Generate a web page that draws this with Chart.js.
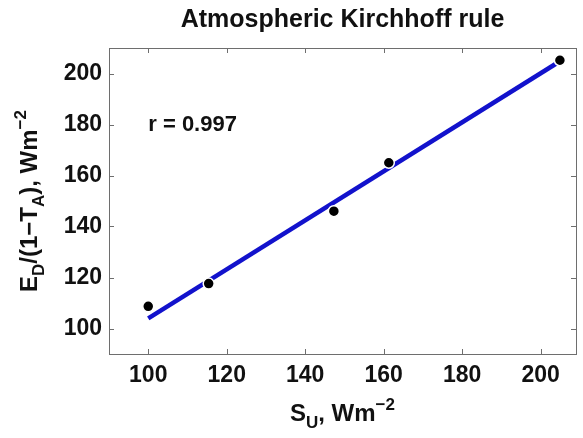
<!DOCTYPE html>
<html>
<head>
<meta charset="utf-8">
<script src="https://cdn.jsdelivr.net/npm/chart.js@4"></script>
<style>
  html, body { margin: 0; padding: 0; background: #fff; }
  #wrap { width: 583px; height: 438px; position: relative; }
</style>
</head>
<body>
<div id="wrap"><canvas id="chart"></canvas></div>
<script>
// measured points (S_U, E_D/(1-T_A))
const suValues = [100, 115.4, 147.3, 161.3, 204.9];
const edValues = [108.7, 117.6, 146, 165, 205.2];
// regression line end points
const fitSu = [100, 205];
const fitEd = [104, 204.9];
const xTicks = [100, 120, 140, 160, 180, 200];
const yTicks = [100, 120, 140, 160, 180, 200];
const rText = "r = 0.997";
const rAt = [100, 180];

const FONT = "'Liberation Sans', Arial, Helvetica, sans-serif";
const boxColor = "#6e6e6e";

const fontFor = (part, size) => {
  const s = part.sub || part.sup ? Math.round(size * 0.72) : size;
  return `bold ${s}px ${FONT}`;
};

// text with sub/superscripts, centred on x, baseline at y
const drawRich = (ctx, parts, x, y, size) => {
  let total = 0;
  parts.forEach((p) => {
    ctx.font = fontFor(p, size);
    total += ctx.measureText(p.text).width;
  });
  let cx = x - total / 2;
  ctx.textAlign = "left";
  ctx.textBaseline = "alphabetic";
  parts.forEach((p) => {
    ctx.font = fontFor(p, size);
    const dy = p.sub ? size * 0.3 : p.sup ? -size * 0.45 : 0;
    ctx.fillText(p.text, cx, y + dy);
    cx += ctx.measureText(p.text).width;
  });
};

const xTitle = [
  { text: "S" }, { text: "U", sub: true }, { text: ", Wm" }, { text: "\u22122", sup: true },
];
const yTitle = [
  { text: "E" }, { text: "D", sub: true }, { text: "/(1\u2212T" }, { text: "A", sub: true },
  { text: "), Wm" }, { text: "\u22122", sup: true },
];

const framePlugin = {
  id: "frame",
  afterDraw(chart) {
    const { ctx, chartArea: a, scales } = chart;
    ctx.save();
    ctx.strokeStyle = boxColor;
    ctx.lineWidth = 1;
    ctx.strokeRect(a.left + 0.5, a.top + 0.5, a.right - a.left, a.bottom - a.top);
    const tl = 5;
    ctx.beginPath();
    scales.x.ticks.forEach((t) => {
      const px = Math.round(scales.x.getPixelForValue(t.value)) + 0.5;
      ctx.moveTo(px, a.bottom);
      ctx.lineTo(px, a.bottom - tl);
      ctx.moveTo(px, a.top);
      ctx.lineTo(px, a.top + tl);
    });
    scales.y.ticks.forEach((t) => {
      const py = Math.round(scales.y.getPixelForValue(t.value)) + 0.5;
      ctx.moveTo(a.left, py);
      ctx.lineTo(a.left + tl, py);
      ctx.moveTo(a.right, py);
      ctx.lineTo(a.right - tl, py);
    });
    ctx.stroke();

    ctx.fillStyle = "#111";
    ctx.font = `bold 25px ${FONT}`;
    ctx.textAlign = "center";
    ctx.textBaseline = "alphabetic";
    ctx.fillText("Atmospheric Kirchhoff rule", (a.left + a.right) / 2, 27);

    drawRich(ctx, xTitle, (a.left + a.right) / 2, 421, 24);

    ctx.save();
    ctx.translate(37, (a.top + a.bottom) / 2);
    ctx.rotate(-Math.PI / 2);
    drawRich(ctx, yTitle, 0, 0, 24);
    ctx.restore();

    ctx.font = `bold 22px ${FONT}`;
    ctx.textAlign = "left";
    ctx.textBaseline = "middle";
    ctx.fillText(rText, scales.x.getPixelForValue(rAt[0]), scales.y.getPixelForValue(rAt[1]));
    ctx.restore();
  },
};

new Chart(document.getElementById("chart"), {
  type: "scatter",
  data: {
    datasets: [
      {
        label: "data",
        data: suValues.map((x, i) => ({ x, y: edValues[i] })),
        pointRadius: 5.5,
        pointBackgroundColor: "#000",
        pointBorderColor: "#fff",
        pointBorderWidth: 1.5,
        showLine: false,
      },
      {
        label: "fit",
        data: fitSu.map((x, i) => ({ x, y: fitEd[i] })),
        showLine: true,
        borderColor: "#1212cc",
        borderWidth: 4.5,
        pointRadius: 0,
      },
    ],
  },
  options: {
    responsive: true,
    maintainAspectRatio: false,
    animation: false,
    layout: { padding: { top: 48, right: 1, left: 0, bottom: 0 } },
    plugins: {
      legend: { display: false },
      tooltip: { enabled: false },
    },
    scales: {
      x: {
        type: "linear",
        min: 90,
        max: 209,
        afterBuildTicks: (scale) => { scale.ticks = xTicks.map((value) => ({ value })); },
        afterFit: (scale) => { scale.height = 84; },
        border: { display: false },
        grid: { display: false, drawTicks: false },
        ticks: {
          padding: 8,
          color: "#111",
          font: { family: FONT, size: 23, weight: "bold" },
        },
      },
      y: {
        type: "linear",
        min: 90,
        max: 210,
        afterBuildTicks: (scale) => { scale.ticks = yTicks.map((value) => ({ value })); },
        afterFit: (scale) => { scale.width = 109; },
        border: { display: false },
        grid: { display: false, drawTicks: false },
        ticks: {
          padding: 7,
          color: "#111",
          font: { family: FONT, size: 23, weight: "bold" },
        },
      },
    },
  },
  plugins: [framePlugin],
});
</script>
</body>
</html>
